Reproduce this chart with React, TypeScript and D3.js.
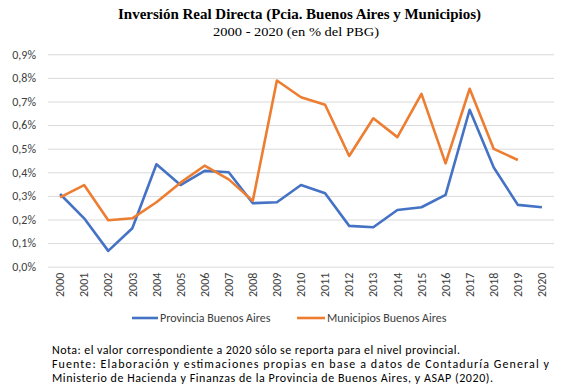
import React, { useEffect, useRef } from 'react';
import * as d3 from 'd3';

const width = 570;
const height = 392;

const years = [
  '2000', '2001', '2002', '2003', '2004', '2005', '2006', '2007', '2008', '2009', '2010',
  '2011', '2012', '2013', '2014', '2015', '2016', '2017', '2018', '2019', '2020',
];

// % del PBG
const provincia = [
  0.308, 0.205, 0.067, 0.163, 0.434, 0.346, 0.406, 0.4, 0.269, 0.273, 0.346,
  0.311, 0.173, 0.167, 0.24, 0.252, 0.304, 0.665, 0.42, 0.262, 0.252,
];
const municipios = [
  0.294, 0.346, 0.197, 0.205, 0.273, 0.356, 0.428, 0.37, 0.279, 0.789, 0.718,
  0.686, 0.469, 0.629, 0.549, 0.732, 0.438, 0.754, 0.499, 0.452, null,
];

const yTicks = [0, 0.1, 0.2, 0.3, 0.4, 0.5, 0.6, 0.7, 0.8, 0.9];

const seriesList = [
  { name: 'Provincia Buenos Aires', values: provincia, color: '#4472C4' },
  { name: 'Municipios Buenos Aires', values: municipios, color: '#ED7D31' },
];

const plot = { left: 48, right: 554, top: 54.3, bottom: 266.7 };
const sans = 'Carlito, Calibri, "Open Sans", sans-serif';
const serif = '"Liberation Serif", "Times New Roman", serif';

export default function App() {
  const ref = useRef<SVGSVGElement>(null);

  useEffect(() => {
    document.body.style.margin = '0';
    if (!ref.current) return;
    const svg = d3.select(ref.current);
    svg.selectAll('*').remove();

    svg.append('rect').attr('width', width).attr('height', height).attr('fill', 'white');

    const x = d3.scaleBand<string>().domain(years).range([plot.left, plot.right]);
    const y = d3.scaleLinear().domain([0, 0.9]).range([plot.bottom, plot.top]);
    const cx = (d: string) => (x(d) ?? 0) + x.bandwidth() / 2;

    // titles
    svg
      .append('text')
      .attr('x', 118)
      .attr('y', 18.5)
      .attr('textLength', 363)
      .attr('lengthAdjust', 'spacingAndGlyphs')
      .style('font-family', serif)
      .style('font-weight', 'bold')
      .style('font-size', '14px')
      .text('Inversión Real Directa (Pcia. Buenos Aires y Municipios)');
    svg
      .append('text')
      .attr('x', 213)
      .attr('y', 35.5)
      .attr('textLength', 166)
      .attr('lengthAdjust', 'spacingAndGlyphs')
      .style('font-family', serif)
      .style('font-size', '13.5px')
      .text('2000 - 2020 (en % del PBG)');

    // y axis grid
    const yAxis = svg
      .append('g')
      .attr('transform', `translate(${plot.left},0)`)
      .call(
        d3
          .axisLeft(y)
          .tickValues(yTicks)
          .tickSizeInner(-(plot.right - plot.left))
          .tickSizeOuter(0)
          .tickPadding(12)
          .tickFormat((d) => d3.format('.1f')(d as number).replace('.', ',') + '%')
      );
    yAxis.select('.domain').remove();
    yAxis.selectAll('.tick line').attr('stroke', '#D9D9D9').attr('stroke-width', 1);
    yAxis
      .selectAll('.tick text')
      .attr('fill', '#404040')
      .style('font-family', sans)
      .style('font-size', '12px');

    // x axis labels
    const xAxis = svg
      .append('g')
      .attr('transform', `translate(0,${plot.bottom})`)
      .call(d3.axisBottom(x).tickSize(0).tickPadding(0));
    xAxis.select('.domain').remove();
    xAxis
      .selectAll('.tick text')
      .attr('transform', 'translate(0,6) rotate(-90)')
      .attr('text-anchor', 'end')
      .attr('dy', '0.35em')
      .attr('y', 0)
      .attr('fill', '#404040')
      .style('font-family', sans)
      .style('font-size', '12px');

    // lines
    seriesList.forEach((s) => {
      const line = d3
        .line<number | null>()
        .defined((d) => d !== null)
        .x((_, i) => cx(years[i]))
        .y((d) => y(d as number));
      svg
        .append('path')
        .datum(s.values)
        .attr('fill', 'none')
        .attr('stroke', s.color)
        .attr('stroke-width', 2.6)
        .attr('stroke-linejoin', 'round')
        .attr('d', line);
    });

    // legend
    const legendItems = [
      { x1: 132, x2: 158, tx: 160 },
      { x1: 297, x2: 325, tx: 327 },
    ];
    seriesList.forEach((s, i) => {
      const g = svg.append('g');
      const p = legendItems[i];
      g.append('line')
        .attr('x1', p.x1)
        .attr('x2', p.x2)
        .attr('y1', 318)
        .attr('y2', 318)
        .attr('stroke', s.color)
        .attr('stroke-width', 2.6);
      g.append('text')
        .attr('x', p.tx)
        .attr('y', 318)
        .attr('dy', '0.35em')
        .attr('fill', '#404040')
        .style('font-family', sans)
        .style('font-size', '12px')
        .text(s.name);
    });

    // footnotes
    const notes = [
      { t: 'Nota: el valor correspondiente a 2020 sólo se reporta para el nivel provincial.', y: 353.5, len: 408 },
      { t: 'Fuente: Elaboración y estimaciones propias en base a datos de Contaduría General y', y: 367.5, len: 497 },
      { t: 'Ministerio de Hacienda y Finanzas de la Provincia de Buenos Aires, y ASAP (2020).', y: 381.5, len: 441 },
    ];
    notes.forEach((n) => {
      svg
        .append('text')
        .attr('x', 52)
        .attr('y', n.y)
        .attr('textLength', n.len)
        .attr('lengthAdjust', 'spacing')
        .attr('fill', '#000')
        .style('font-family', sans)
        .style('font-size', '12px')
        .text(n.t);
    });
  }, []);

  return <svg ref={ref} width={width} height={height} style={{ display: 'block' }} />;
}
